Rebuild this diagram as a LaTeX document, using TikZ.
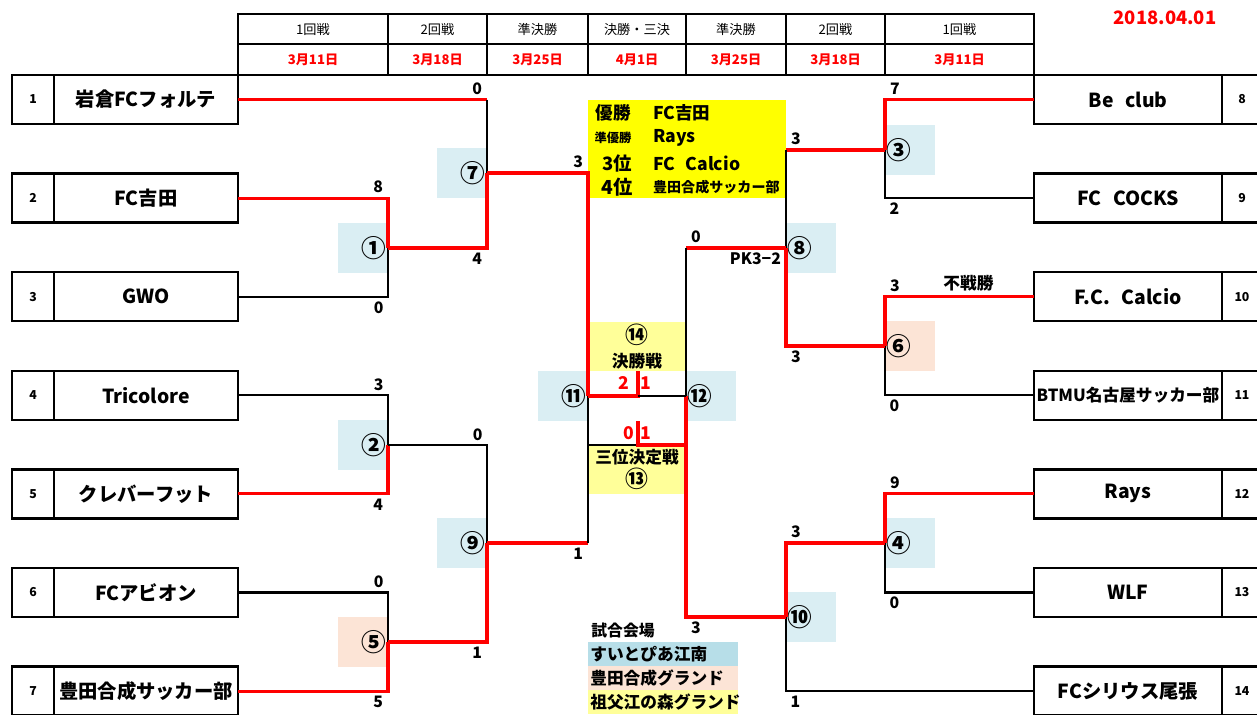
\documentclass[tikz,border=0pt]{standalone}
\usepackage{fontspec}
\setmainfont{Noto Sans CJK JP}
\usetikzlibrary{positioning}
\definecolor{matchblue}{RGB}{218,238,243}
\definecolor{matchpeach}{RGB}{252,228,214}
\definecolor{resultyellow}{RGB}{255,255,0}
\definecolor{paleyellow}{RGB}{255,255,153}
\definecolor{legendblue}{RGB}{183,222,232}
\definecolor{scorered}{RGB}{255,0,0}
\newcommand\teamfont{\fontsize{11}{13}\selectfont\bfseries}
\newcommand\numfont{\fontsize{7}{8}\selectfont\bfseries}
\newcommand\scorefont{\fontsize{9}{10}\selectfont\bfseries}
\newcommand\circfont{\fontsize{14}{15}\selectfont\bfseries}
\newcommand\headfont{\fontsize{7.5}{9}\selectfont}
\begin{document}
\begin{tikzpicture}[x=0.02cm,y=-0.02cm,
    team/.style={draw,line width=1.3pt,outer sep=0pt,inner sep=0pt,minimum height=0.98cm,font=\teamfont},
    num/.style={draw,line width=1.3pt,outer sep=0pt,inner sep=0pt,minimum height=0.98cm,font=\numfont},
    mbox/.style={minimum width=1cm,minimum height=1cm,inner xsep=0.03cm,inner ysep=0pt,text width=0.94cm,font=\circfont},
    leg/.style={anchor=west,minimum height=0.48cm,inner xsep=0.04cm,inner ysep=0pt,text width=2.92cm,align=left,font=\fontsize{9.5}{11}\selectfont\bfseries},
    win/.style={draw=scorered,line width=1.8pt},
    lose/.style={draw=black,line width=1.25pt},
    score/.style={font=\scorefont,inner sep=2pt},
    frame/.style={line width=1.3pt}]
\useasboundingbox (0,0) rectangle (1257,714);

\foreach \xa/\xb/\rnd/\day [count=\i] in {238/388/1回戦/3月11日,388/487/2回戦/3月18日,487/588/準決勝/3月25日,588/686/決勝・三決/4月1日,686/786/準決勝/3月25日,786/885/2回戦/3月18日,885/1034/1回戦/3月11日}{
  \draw[frame] (\xa,14) rectangle (\xb,75) (\xa,44) -- (\xb,44);
  \node[font=\headfont] (rnd\i) at ({(\xa+\xb)/2},29.5) {\rnd};
  \node[font=\headfont\bfseries,text=scorered] (day\i) at ({(\xa+\xb)/2},60) {\day};
}
\node[font=\fontsize{10.5}{12}\selectfont\bfseries,text=scorered] (date) at (1165,18) {2018.04.01};

\foreach \m/\px/\py/\c/\lab in {1/388/248/matchblue/①,2/388/445/matchblue/②,5/388/642/matchpeach/⑤,7/487/173/matchblue/⑦,9/487/543/matchblue/⑨,11/588/396/matchblue/⑪}{
  \coordinate (m\m) at (\px,\py);
  \node[mbox,fill=\c,anchor=east,align=right] (mb\m) at (m\m) {\lab};
}
\foreach \m/\px/\py/\c/\lab in {3/885/150/matchblue/③,6/885/346/matchpeach/⑥,4/885/543/matchblue/④,8/786/248/matchblue/⑧,10/786/617/matchblue/⑩,12/686/396/matchblue/⑫}{
  \coordinate (m\m) at (\px,\py);
  \node[mbox,fill=\c,anchor=west,align=left] (mb\m) at (m\m) {\lab};
}

% results and centre boxes
\node[fill=resultyellow,anchor=north west,inner sep=0pt,outer sep=0pt,minimum width=3.96cm,minimum height=1.96cm] (result) at (588,100) {};
\node[font=\fontsize{10}{12}\selectfont\bfseries] (r1) at (613,113) {優勝};
\node[font=\fontsize{10}{12}\selectfont\bfseries,anchor=west,inner sep=1pt] (w1) at (651,113) {FC吉田};
\node[font=\fontsize{7}{8}\selectfont\bfseries] (r2) at (613,138) {準優勝};
\node[font=\fontsize{10}{12}\selectfont\bfseries,anchor=west,inner sep=1pt] (w2) at (651,138) {Rays};
\node[font=\fontsize{10.5}{12}\selectfont\bfseries] (r3) at (617,163) {3位};
\node[font=\fontsize{10}{12}\selectfont\bfseries,anchor=west,inner sep=1pt] (w3) at (651,163) {FC\hspace{.6em}Calcio};
\node[font=\fontsize{11}{12}\selectfont\bfseries] (r4) at (617,187) {4位};
\node[font=\fontsize{8}{9}\selectfont\bfseries,anchor=west,inner sep=1pt] (w4) at (651,187) {豊田合成サッカー部};

\node[fill=paleyellow,minimum width=1.96cm,minimum height=0.98cm,inner sep=0pt,align=center,font=\fontsize{9.5}{13.5}\selectfont\bfseries] (f14) at (637,346.5) {{\fontsize{13}{13.5}\selectfont ⑭}\\決勝戦};
\node[fill=paleyellow,minimum width=1.96cm,minimum height=0.98cm,inner sep=0pt,align=center,font=\fontsize{9.5}{13.5}\selectfont\bfseries] (f13) at (637,469.5) {三位決定戦\\{\fontsize{13}{13.5}\selectfont ⑬}};

\node[font=\fontsize{9}{11}\selectfont\bfseries] (venue) at (623,631) {試合会場};
\node[leg,fill=legendblue] (v1) at (588,654) {すいとぴあ江南};
\node[leg,fill=matchpeach] (v2) at (588,678) {豊田合成グランド};
\node[leg,fill=paleyellow] (v3) at (588,702) {祖父江の森グランド};

% teams
\foreach \i/\name in {1/岩倉FCフォルテ,2/FC吉田,3/GWO,4/Tricolore,5/クレバーフット,6/FCアビオン,7/豊田合成サッカー部}{
  \node[team,minimum width=3.68cm] (t\i) at (146,{99.5+(\i-1)*98.6}) {\name};
  \node[num,minimum width=0.84cm,left=0pt of t\i] (n\i) {\i};
}
\foreach \i/\name in {8/Be\hspace{.6em}club,9/FC\hspace{.6em}COCKS,10/F.C.\hspace{.6em}Calcio,11/{\fontsize{9.5}{11}\selectfont BTMU名古屋サッカー部},12/Rays,13/WLF,14/FCシリウス尾張}{
  \node[team,minimum width=3.76cm] (t\i) at (1128,{99.5+(\i-8)*98.6}) {\name};
  \node[num,minimum width=0.8cm,right=0pt of t\i] (n\i) {\i};
}

% left side
\draw[win] (t2.east) -| node[score,pos=.5,above left] (s2) {8} (m1);
\draw[lose] (t3.east) -| node[score,pos=.5,below left] (s3) {0} (m1);
\draw[lose] (t4.east) -| node[score,pos=.5,above left] (s4) {3} (m2);
\draw[win] (t5.east) -| node[score,pos=.5,below left] (s5) {4} (m2);
\draw[lose] (t6.east) -| node[score,pos=.5,above left] (s6) {0} (m5);
\draw[win] (t7.east) -| node[score,pos=.5,below left] (s7) {5} (m5);
\draw[win] (t1.east) -- node[score,pos=1,above left] (s1) {0} (t1.east -| m7);
\draw[lose] (t1.east -| m7) -- (m7);
\draw[win] (m1) -| node[score,pos=.5,below left] (sm1) {4} (m7);
\draw[lose] (m2) -| node[score,pos=.5,above left] (sm2) {0} (m9);
\draw[win] (m5) -| node[score,pos=.5,below left] (sm5) {1} (m9);
\draw[win] (m7) -| node[score,pos=.5,above left] (sm7) {3} (m11);
\draw[win] (m9) -- node[score,pos=1,below left] (sm9) {1} (m9 -| m11);
\draw[lose] (m9 -| m11) -- (m11);

% right side
\draw[win] (t8.west) -| node[score,pos=.5,above right] (s8) {7} (m3);
\draw[lose] (t9.west) -| node[score,pos=.5,below right] (s9) {2} (m3);
\draw[win] (t10.west) -| node[score,pos=.5,above right] (s10) {3} node[score,pos=.22,above] (bye) {\fontsize{9.5}{11}\selectfont 不戦勝} (m6);
\draw[lose] (t11.west) -| node[score,pos=.5,below right] (s11) {0} (m6);
\draw[win] (t12.west) -| node[score,pos=.5,above right] (s12) {9} (m4);
\draw[lose] (t13.west) -| node[score,pos=.5,below right] (s13) {0} (m4);
\draw[win] (m3) -- node[score,pos=1,above right] (sm3) {3} (m3 -| m8);
\draw[lose] (m3 -| m8) -- (m8);
\draw[win] (m6) -| node[score,pos=.5,below right] (sm6) {3} (m8);
\draw[win] (m4) -| node[score,pos=.5,above right] (sm4) {3} (m10);
\draw[lose] (t14.west) -| node[score,pos=.5,below right] (s14) {1} (m10);
\draw[win] (m8) -- node[score,pos=0,below left] (pk) {PK3−2} node[score,pos=1,above right] (sm8) {0} (m8 -| m12);
\draw[lose] (m8 -| m12) -- (m12);
\draw[win] (m10) -| node[score,pos=.5,below right] (sm10) {3} (m12);

% final and third place
\coordinate (fin) at (638,396);
\coordinate (finup) at (638,371);
\coordinate (thl) at (588,445);
\coordinate (thm) at (638,445);
\coordinate (thup) at (638,421);
\coordinate (thr) at (686,445);
\draw[win] (m11) -- (fin) -- (finup);
\draw[lose] (fin) -- (m12);
\draw[lose] (thl) -- (thm);
\draw[win] (thr) -- (thm) -- (thup);
\node[score,text=scorered,font=\fontsize{10}{11}\selectfont\bfseries] (fa) at (624,383) {2};
\node[score,text=scorered,font=\fontsize{10}{11}\selectfont\bfseries] (fb) at (646,383) {1};
\node[score,text=scorered,font=\fontsize{10}{11}\selectfont\bfseries] (ta) at (629,433) {0};
\node[score,text=scorered,font=\fontsize{10}{11}\selectfont\bfseries] (tb) at (646,433) {1};
\end{tikzpicture}
\end{document}
